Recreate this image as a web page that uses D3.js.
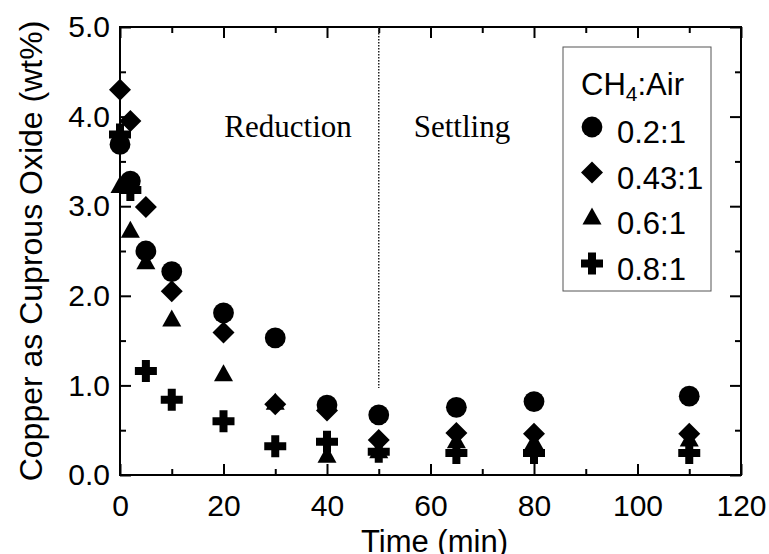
<!DOCTYPE html>
<html>
<head>
<meta charset="utf-8">
<script src="https://cdn.jsdelivr.net/npm/d3@7"></script>
<style>
    body { margin: 0; background: #fff; }
    svg text { font-family: "Liberation Sans", Arial, sans-serif; fill: #000; }
</style>
</head>
<body>
<div id="chart"></div>
<script>
// sample times (min)
const times = [0, 2, 5, 10, 20, 30, 40, 50, 65, 80, 110];

// copper as cuprous oxide (wt%) for each CH4:Air ratio
const ratio02 = [3.69, 3.28, 2.50, 2.27, 1.81, 1.53, 0.78, 0.67, 0.755, 0.82, 0.88];
const ratio043 = [4.30, 3.95, 2.99, 2.05, 1.59, 0.79, 0.72, 0.39, 0.47, 0.46, 0.46];
const ratio06 = [3.22, 2.72, 2.37, 1.73, 1.12, 0.80, 0.21, 0.26, 0.37, 0.36, 0.39];
const ratio08 = [3.80, 3.18, 1.16, 0.84, 0.60, 0.32, 0.37, 0.26, 0.245, 0.245, 0.245];

const seriesNames = ["0.2:1", "0.43:1", "0.6:1", "0.8:1"];
const seriesShapes = ["circle", "diamond", "triangle", "plus"];
const seriesValues = [ratio02, ratio043, ratio06, ratio08];

const xTicks = [0, 20, 40, 60, 80, 100, 120];
const xMinorTicks = [10, 30, 50, 70, 90, 110];
const yTicks = [0, 1, 2, 3, 4, 5];
const yMinorTicks = [0.5, 1.5, 2.5, 3.5, 4.5];

const phaseLabels = ["Reduction", "Settling"];
const phaseSplit = 50;

class ScatterChart {
    constructor(parentElement) {
        this.parentElement = parentElement;
        this.initVis();
    }

    initVis() {
        let vis = this;

        vis.margin = { top: 27, right: 28, bottom: 79, left: 120 };
        vis.width = 769 - vis.margin.left - vis.margin.right;
        vis.height = 554 - vis.margin.top - vis.margin.bottom;

        vis.svg = d3.select("#" + vis.parentElement)
            .append("svg")
            .attr("width", 769)
            .attr("height", 554)
            .append("g")
            .attr("transform", `translate(${vis.margin.left},${vis.margin.top})`);

        vis.x = d3.scaleLinear().domain([0, 120]).range([0, vis.width]);
        vis.y = d3.scaleLinear().domain([0, 5]).range([vis.height, 0]);

        vis.drawAxes();
        vis.drawPhases();
        vis.drawPoints();
        vis.drawLegend();
    }

    drawAxes() {
        let vis = this;

        // major + minor ticks on all four sides, pointing inward
        const addAxis = (axisFn, ticks, size, transform, labels, pad) => {
            const g = vis.svg.append("g")
                .attr("transform", transform)
                .call(axisFn
                    .tickValues(ticks)
                    .tickSize(-size)
                    .tickSizeOuter(0)
                    .tickPadding(pad || 0)
                    .tickFormat(labels ? labels : () => ""));
            g.select(".domain").remove();
            g.selectAll(".tick line").attr("stroke", "#000").attr("stroke-width", 2);
            g.selectAll(".tick text")
                .style("font-size", "30px")
                .attr("fill", "#000");
            return g;
        };

        addAxis(d3.axisBottom(vis.x), xTicks, 11, `translate(0,${vis.height})`, d3.format("d"), 20);
        addAxis(d3.axisBottom(vis.x), xMinorTicks, 6, `translate(0,${vis.height})`);
        addAxis(d3.axisTop(vis.x), xTicks, 11, "translate(0,0)");
        addAxis(d3.axisTop(vis.x), xMinorTicks, 6, "translate(0,0)");
        addAxis(d3.axisLeft(vis.y), yTicks, 11, "translate(0,0)", d3.format(".1f"), 10);
        addAxis(d3.axisLeft(vis.y), yMinorTicks, 6, "translate(0,0)");
        addAxis(d3.axisRight(vis.y), yTicks, 11, `translate(${vis.width},0)`);
        addAxis(d3.axisRight(vis.y), yMinorTicks, 6, `translate(${vis.width},0)`);

        vis.svg.append("rect")
            .attr("x", 0)
            .attr("y", 0)
            .attr("width", vis.width)
            .attr("height", vis.height)
            .attr("fill", "none")
            .attr("stroke", "#000")
            .attr("stroke-width", 2);

        vis.svg.append("text")
            .attr("x", vis.width / 2 + 4)
            .attr("y", vis.height + 77)
            .attr("text-anchor", "middle")
            .style("font-size", "31px")
            .text("Time (min)");

        vis.svg.append("text")
            .attr("transform", "rotate(-90)")
            .attr("x", -vis.height / 2)
            .attr("y", -78)
            .attr("text-anchor", "middle")
            .style("font-size", "32px")
            .text("Copper as Cuprous Oxide (wt%)");
    }

    drawPhases() {
        let vis = this;

        vis.svg.append("line")
            .attr("x1", vis.x(phaseSplit))
            .attr("x2", vis.x(phaseSplit))
            .attr("y1", vis.y(5))
            .attr("y2", vis.y(0.97))
            .attr("stroke", "#222")
            .attr("stroke-width", 1.5)
            .attr("stroke-dasharray", "1.5 1.5");

        vis.svg.append("text")
            .attr("x", vis.x(phaseSplit) - 27)
            .attr("y", 110)
            .attr("text-anchor", "end")
            .style("font-family", "'Liberation Serif', 'Times New Roman', serif")
            .style("font-size", "31px")
            .text(phaseLabels[0]);

        vis.svg.append("text")
            .attr("x", vis.x(phaseSplit) + 35)
            .attr("y", 110)
            .style("font-family", "'Liberation Serif', 'Times New Roman', serif")
            .style("font-size", "31px")
            .text(phaseLabels[1]);
    }

    symbolPath(shape) {
        if (shape === "circle") return d3.symbol(d3.symbolCircle, 340)();
        if (shape === "diamond") return "M0,-11L11,0L0,11L-11,0Z";
        if (shape === "triangle") return "M0,-10.5L9.5,6.5L-9.5,6.5Z";
        // thick plus
        return "M-4,-11H4V-4H11V4H4V11H-4V4H-11V-4H-4Z";
    }

    drawPoints() {
        let vis = this;

        seriesValues.forEach((vals, i) => {
            const pts = times.map((t, j) => ({ t: t, v: vals[j] }));
            vis.svg.append("g")
                .attr("class", "series-" + i)
                .selectAll("path")
                .data(pts)
                .enter().append("path")
                .attr("transform", d => `translate(${vis.x(d.t)},${vis.y(d.v)})`)
                .attr("d", vis.symbolPath(seriesShapes[i]))
                .attr("fill", "#000");
        });
    }

    drawLegend() {
        let vis = this;

        const lg = vis.svg.append("g")
            .attr("transform", `translate(${563 - vis.margin.left},${47 - vis.margin.top})`);

        lg.append("rect")
            .attr("width", 148)
            .attr("height", 244)
            .attr("fill", "#fff")
            .attr("stroke", "#555")
            .attr("stroke-width", 1);

        const title = lg.append("text")
            .attr("x", 18)
            .attr("y", 48)
            .style("font-size", "31px");
        title.append("tspan").text("CH");
        title.append("tspan").attr("dy", 6).style("font-size", "21px").text("4");
        title.append("tspan").attr("dy", -6).text(":Air");

        const rows = lg.selectAll(".legend-row")
            .data(seriesNames)
            .enter().append("g")
            .attr("class", "legend-row")
            .attr("transform", (d, i) => `translate(0,${96 + i * 45.5})`);

        rows.append("path")
            .attr("transform", "translate(29,-16)")
            .attr("d", (d, i) => vis.symbolPath(seriesShapes[i]))
            .attr("fill", "#000");

        rows.append("text")
            .attr("x", 54)
            .attr("y", 0)
            .style("font-size", "31px")
            .text(d => d);
    }
}

new ScatterChart("chart");
</script>
</body>
</html>
